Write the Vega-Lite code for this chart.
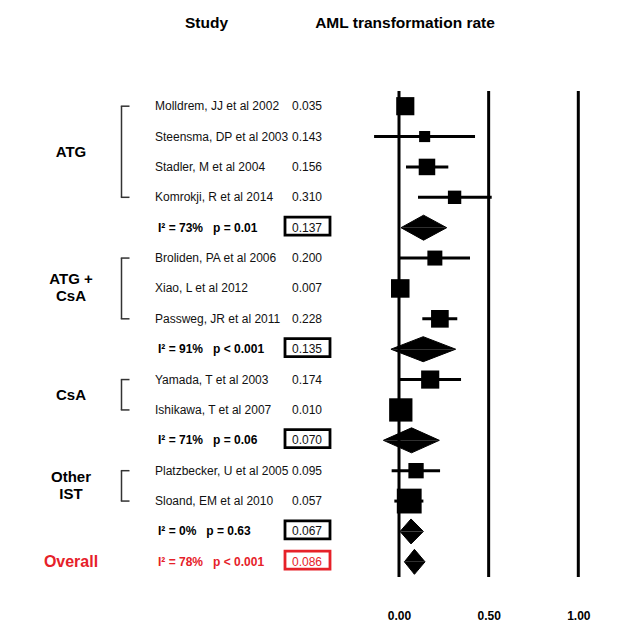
{
  "$schema": "https://vega.github.io/schema/vega-lite/v6.json",
  "padding": 0,
  "background": "white",
  "spacing": 43,
  "config": {
    "view": {"stroke": null},
    "font": "Liberation Sans",
    "text": {"font": "Liberation Sans"},
    "axis": {"labelFont": "Liberation Sans"}
  },
  "datasets": {
    "studies": [
      {"id": "Molldrem, JJ et al 2002", "group": "ATG", "est": 0.035, "lo": 0.010, "hi": 0.060, "weight": 9.4},
      {"id": "Steensma, DP et al 2003", "group": "ATG", "est": 0.143, "lo": -0.139, "hi": 0.424, "weight": 3.5},
      {"id": "Stadler, M et al 2004", "group": "ATG", "est": 0.156, "lo": 0.039, "hi": 0.275, "weight": 7.8},
      {"id": "Komrokji, R et al 2014", "group": "ATG", "est": 0.310, "lo": 0.106, "hi": 0.517, "weight": 5.1},
      {"id": "Broliden, PA et al 2006", "group": "ATG + CsA", "est": 0.200, "lo": 0.002, "hi": 0.396, "weight": 6.4},
      {"id": "Xiao, L et al 2012", "group": "ATG + CsA", "est": 0.007, "lo": 0.000, "hi": 0.030, "weight": 9.8},
      {"id": "Passweg, JR et al 2011", "group": "ATG + CsA", "est": 0.228, "lo": 0.130, "hi": 0.325, "weight": 8.9},
      {"id": "Yamada, T et al 2003", "group": "CsA", "est": 0.174, "lo": 0.002, "hi": 0.346, "weight": 9.4},
      {"id": "Ishikawa, T et al 2007", "group": "CsA", "est": 0.010, "lo": 0.001, "hi": 0.040, "weight": 15.5},
      {"id": "Platzbecker, U et al 2005", "group": "Other IST", "est": 0.095, "lo": -0.041, "hi": 0.229, "weight": 6.7},
      {"id": "Sloand, EM et al 2010", "group": "Other IST", "est": 0.057, "lo": -0.026, "hi": 0.136, "weight": 17.6}
    ],
    "pooled": [
      {"id": "ATG pooled", "stats": "I² = 73%\u00a0\u00a0\u00a0p = 0.01", "est": 0.137, "lo": 0.011, "hi": 0.266},
      {"id": "ATG + CsA pooled", "stats": "I² = 91%\u00a0\u00a0\u00a0p < 0.001", "est": 0.135, "lo": -0.045, "hi": 0.316},
      {"id": "CsA pooled", "stats": "I² = 71%\u00a0\u00a0\u00a0p = 0.06", "est": 0.070, "lo": -0.087, "hi": 0.225},
      {"id": "Other IST pooled", "stats": "I² = 0%\u00a0\u00a0\u00a0p = 0.63", "est": 0.067, "lo": 0.006, "hi": 0.136},
      {"id": "Overall pooled", "stats": "I² = 78%\u00a0\u00a0\u00a0p < 0.001", "est": 0.086, "lo": 0.030, "hi": 0.145}
    ],
    "groups": [
      {"label": "ATG", "first": "Molldrem, JJ et al 2002", "last": "Komrokji, R et al 2014", "rows": 4},
      {"label": "ATG +\nCsA", "first": "Broliden, PA et al 2006", "last": "Passweg, JR et al 2011", "rows": 3},
      {"label": "CsA", "first": "Yamada, T et al 2003", "last": "Ishikawa, T et al 2007", "rows": 2},
      {"label": "Other\nIST", "first": "Platzbecker, U et al 2005", "last": "Sloand, EM et al 2010", "rows": 2},
      {"label": "Overall", "first": "Overall pooled", "last": "Overall pooled", "rows": 1}
    ]
  },
  "vconcat": [
    {
      "width": 626,
      "height": 46,
      "data": {"values": [{}]},
      "layer": [
        {
          "mark": {"type": "text", "fontSize": 15.5, "fontWeight": "bold", "align": "center", "baseline": "middle", "color": "black"},
          "encoding": {
            "x": {"datum": 206.5, "type": "quantitative", "scale": {"domain": [0, 626]}, "axis": null},
            "text": {"value": "Study"}
          }
        },
        {
          "mark": {"type": "text", "fontSize": 15.5, "fontWeight": "bold", "align": "center", "baseline": "middle", "color": "black"},
          "encoding": {
            "x": {"datum": 405, "type": "quantitative", "scale": {"domain": [0, 626]}, "axis": null},
            "text": {"value": "AML transformation rate"}
          }
        }
      ]
    },
    {
      "width": 626,
      "height": 486,
      "resolve": {"scale": {"x": "independent", "yOffset": "independent", "size": "independent"}},
      "layer": [
        {
          "layer": [
            {
              "data": {"name": "studies"},
              "mark": {"type": "text", "align": "left", "baseline": "middle", "fontSize": 12, "color": "#111111"},
              "encoding": {
                "x": {"datum": 155, "type": "quantitative", "scale": {"domain": [0, 626]}, "axis": null},
                "y": {"field": "id", "type": "nominal", "axis": null,
                  "scale": {"type": "band", "paddingInner": 0, "paddingOuter": 0, "domain": ["Molldrem, JJ et al 2002", "Steensma, DP et al 2003", "Stadler, M et al 2004", "Komrokji, R et al 2014", "ATG pooled", "Broliden, PA et al 2006", "Xiao, L et al 2012", "Passweg, JR et al 2011", "ATG + CsA pooled", "Yamada, T et al 2003", "Ishikawa, T et al 2007", "CsA pooled", "Platzbecker, U et al 2005", "Sloand, EM et al 2010", "Other IST pooled", "Overall pooled"]}},
                "text": {"field": "id"}
              }
            },
            {
              "data": {"name": "studies"},
              "mark": {"type": "text", "align": "right", "baseline": "middle", "fontSize": 12, "color": "#111111"},
              "encoding": {
                "x": {"datum": 322, "type": "quantitative", "scale": {"domain": [0, 626]}, "axis": null},
                "y": {"field": "id", "type": "nominal", "axis": null},
                "text": {"field": "est", "type": "quantitative", "format": ".3f"}
              }
            },
            {
              "data": {"name": "pooled"},
              "mark": {"type": "text", "align": "left", "baseline": "middle", "fontSize": 12, "fontWeight": "bold"},
              "encoding": {
                "x": {"datum": 158, "type": "quantitative", "scale": {"domain": [0, 626]}, "axis": null},
                "y": {"field": "id", "type": "nominal", "axis": null},
                "text": {"field": "stats"},
                "color": {"condition": {"test": "datum.id === 'Overall pooled'", "value": "#e62129"}, "value": "black"}
              }
            },
            {
              "data": {"name": "pooled"},
              "mark": {"type": "text", "align": "right", "baseline": "middle", "fontSize": 12},
              "encoding": {
                "x": {"datum": 322, "type": "quantitative", "scale": {"domain": [0, 626]}, "axis": null},
                "y": {"field": "id", "type": "nominal", "axis": null},
                "text": {"field": "est", "type": "quantitative", "format": ".3f"},
                "color": {"condition": {"test": "datum.id === 'Overall pooled'", "value": "#e62129"}, "value": "#111111"}
              }
            },
            {
              "data": {"name": "pooled"},
              "mark": {"type": "rect", "fill": "transparent", "strokeWidth": 2.8, "height": {"band": 0.7}},
              "encoding": {
                "x": {"datum": 285, "type": "quantitative", "scale": {"domain": [0, 626]}, "axis": null},
                "x2": {"datum": 330},
                "y": {"field": "id", "type": "nominal", "axis": null},
                "stroke": {"condition": {"test": "datum.id === 'Overall pooled'", "value": "#e62129"}, "value": "black"}
              }
            },
            {
              "data": {"name": "groups"},
              "transform": [{"filter": "datum.rows > 1"}],
              "layer": [
                {
                  "mark": {"type": "rule", "color": "#333333", "strokeWidth": 1.5},
                  "encoding": {
                    "x": {"datum": 121.5, "type": "quantitative", "scale": {"domain": [0, 626]}, "axis": null},
                    "y": {"field": "first", "type": "nominal", "bandPosition": 0.5, "axis": null},
                    "y2": {"field": "last", "bandPosition": 0.5}
                  }
                },
                {
                  "mark": {"type": "rule", "color": "#333333", "strokeWidth": 1.5},
                  "encoding": {
                    "x": {"datum": 120.8, "type": "quantitative", "scale": {"domain": [0, 626]}, "axis": null},
                    "x2": {"datum": 129.5},
                    "y": {"field": "first", "type": "nominal", "bandPosition": 0.5, "axis": null}
                  }
                },
                {
                  "mark": {"type": "rule", "color": "#333333", "strokeWidth": 1.5},
                  "encoding": {
                    "x": {"datum": 120.8, "type": "quantitative", "scale": {"domain": [0, 626]}, "axis": null},
                    "x2": {"datum": 129.5},
                    "y": {"field": "last", "type": "nominal", "bandPosition": 0.5, "axis": null}
                  }
                }
              ]
            },
            {
              "data": {"name": "groups"},
              "transform": [{"filter": "indexof(datum.label, '\\n') < 0"}],
              "mark": {"type": "text", "align": "center", "baseline": "middle", "fontWeight": "bold"},
              "encoding": {
                "x": {"datum": 71, "type": "quantitative", "scale": {"domain": [0, 626]}, "axis": null},
                "y": {"field": "first", "type": "nominal", "axis": null},
                "yOffset": {"field": "rows", "type": "quantitative", "scale": {"domain": [1, 4], "range": [15.1875, 60.75], "zero": false, "nice": false}},
                "text": {"field": "label"},
                "color": {"condition": {"test": "datum.label === 'Overall'", "value": "#e62129"}, "value": "black"},
                "size": {"condition": {"test": "datum.label === 'Overall'", "value": 16}, "value": 15}
              }
            },
            {
              "data": {"name": "groups"},
              "transform": [{"filter": "indexof(datum.label, '\\n') >= 0"}],
              "mark": {"type": "text", "align": "center", "baseline": "middle", "fontWeight": "bold", "fontSize": 15, "color": "black", "lineBreak": "\n", "lineHeight": 17, "dy": -9},
              "encoding": {
                "x": {"datum": 71, "type": "quantitative", "scale": {"domain": [0, 626]}, "axis": null},
                "y": {"field": "first", "type": "nominal", "axis": null},
                "yOffset": {"field": "rows", "type": "quantitative", "scale": {"domain": [1, 4], "range": [15.1875, 60.75], "zero": false, "nice": false}},
                "text": {"field": "label"}
              }
            }
          ]
        },
        {
          "layer": [
            {
              "data": {"values": [{"ref": 0}, {"ref": 0.5}, {"ref": 1}]},
              "mark": {"type": "rule", "color": "black", "strokeWidth": 3},
              "encoding": {
                "x": {"field": "ref", "type": "quantitative",
                  "scale": {"domain": [-2.2253, 1.266], "nice": false, "zero": false},
                  "axis": {"values": [0, 0.5, 1], "format": ".2f", "labelFontWeight": "bold", "labelFontSize": 12, "labelColor": "black", "ticks": false, "domain": false, "grid": false, "title": null, "labelPadding": 33}}
              }
            },
            {
              "data": {"name": "studies"},
              "mark": {"type": "rule", "color": "black", "strokeWidth": 3},
              "encoding": {
                "x": {"field": "lo", "type": "quantitative", "scale": {"domain": [-2.2253, 1.266], "nice": false, "zero": false},
                  "axis": {"values": [0, 0.5, 1], "format": ".2f", "labelFontWeight": "bold", "labelFontSize": 12, "labelColor": "black", "ticks": false, "domain": false, "grid": false, "title": null, "labelPadding": 33}},
                "x2": {"field": "hi"},
                "y": {"field": "id", "type": "nominal", "bandPosition": 0.5, "axis": null,
                  "scale": {"type": "band", "paddingInner": 0, "paddingOuter": 0, "domain": ["Molldrem, JJ et al 2002", "Steensma, DP et al 2003", "Stadler, M et al 2004", "Komrokji, R et al 2014", "ATG pooled", "Broliden, PA et al 2006", "Xiao, L et al 2012", "Passweg, JR et al 2011", "ATG + CsA pooled", "Yamada, T et al 2003", "Ishikawa, T et al 2007", "CsA pooled", "Platzbecker, U et al 2005", "Sloand, EM et al 2010", "Other IST pooled", "Overall pooled"]}}
              }
            },
            {
              "data": {"name": "studies"},
              "mark": {"type": "point", "shape": "square", "filled": true, "color": "black", "opacity": 1},
              "encoding": {
                "x": {"field": "est", "type": "quantitative", "scale": {"domain": [-2.2253, 1.266], "nice": false, "zero": false},
                  "axis": {"values": [0, 0.5, 1], "format": ".2f", "labelFontWeight": "bold", "labelFontSize": 12, "labelColor": "black", "ticks": false, "domain": false, "grid": false, "title": null, "labelPadding": 33}},
                "y": {"field": "id", "type": "nominal", "axis": null},
                "size": {"field": "weight", "type": "quantitative", "scale": {"domain": [0, 100], "range": [0, 3504]}, "legend": null}
              }
            },
            {
              "data": {"name": "pooled"},
              "transform": [
                {"fold": ["lo", "est", "hi"], "as": ["bound", "value"]},
                {"window": [{"op": "rank", "as": "vertex"}], "sort": [{"field": "value", "order": "ascending"}], "groupby": ["id"]}
              ],
              "resolve": {"scale": {"yOffset": "independent"}},
              "layer": [
                {
                  "mark": {"type": "line", "filled": true, "color": "black", "stroke": "black", "strokeWidth": 1},
                  "encoding": {
                    "x": {"field": "value", "type": "quantitative", "scale": {"domain": [-2.2253, 1.266], "nice": false, "zero": false},
                      "axis": {"values": [0, 0.5, 1], "format": ".2f", "labelFontWeight": "bold", "labelFontSize": 12, "labelColor": "black", "ticks": false, "domain": false, "grid": false, "title": null, "labelPadding": 33}},
                    "y": {"field": "id", "type": "nominal", "axis": null},
                    "yOffset": {"field": "vertex", "type": "quantitative", "scale": {"domain": [1, 2, 3], "range": [15.1875, 2.6875, 15.1875], "zero": false, "nice": false}},
                    "detail": {"field": "id"},
                    "order": {"field": "vertex", "type": "quantitative"}
                  }
                },
                {
                  "mark": {"type": "line", "filled": true, "color": "black", "stroke": "black", "strokeWidth": 1},
                  "encoding": {
                    "x": {"field": "value", "type": "quantitative", "scale": {"domain": [-2.2253, 1.266], "nice": false, "zero": false},
                      "axis": {"values": [0, 0.5, 1], "format": ".2f", "labelFontWeight": "bold", "labelFontSize": 12, "labelColor": "black", "ticks": false, "domain": false, "grid": false, "title": null, "labelPadding": 33}},
                    "y": {"field": "id", "type": "nominal", "axis": null},
                    "yOffset": {"field": "vertex", "type": "quantitative", "scale": {"domain": [1, 2, 3], "range": [15.1875, 27.6875, 15.1875], "zero": false, "nice": false}},
                    "detail": {"field": "id"},
                    "order": {"field": "vertex", "type": "quantitative"}
                  }
                }
              ]
            }
          ]
        }
      ]
    }
  ]
}
